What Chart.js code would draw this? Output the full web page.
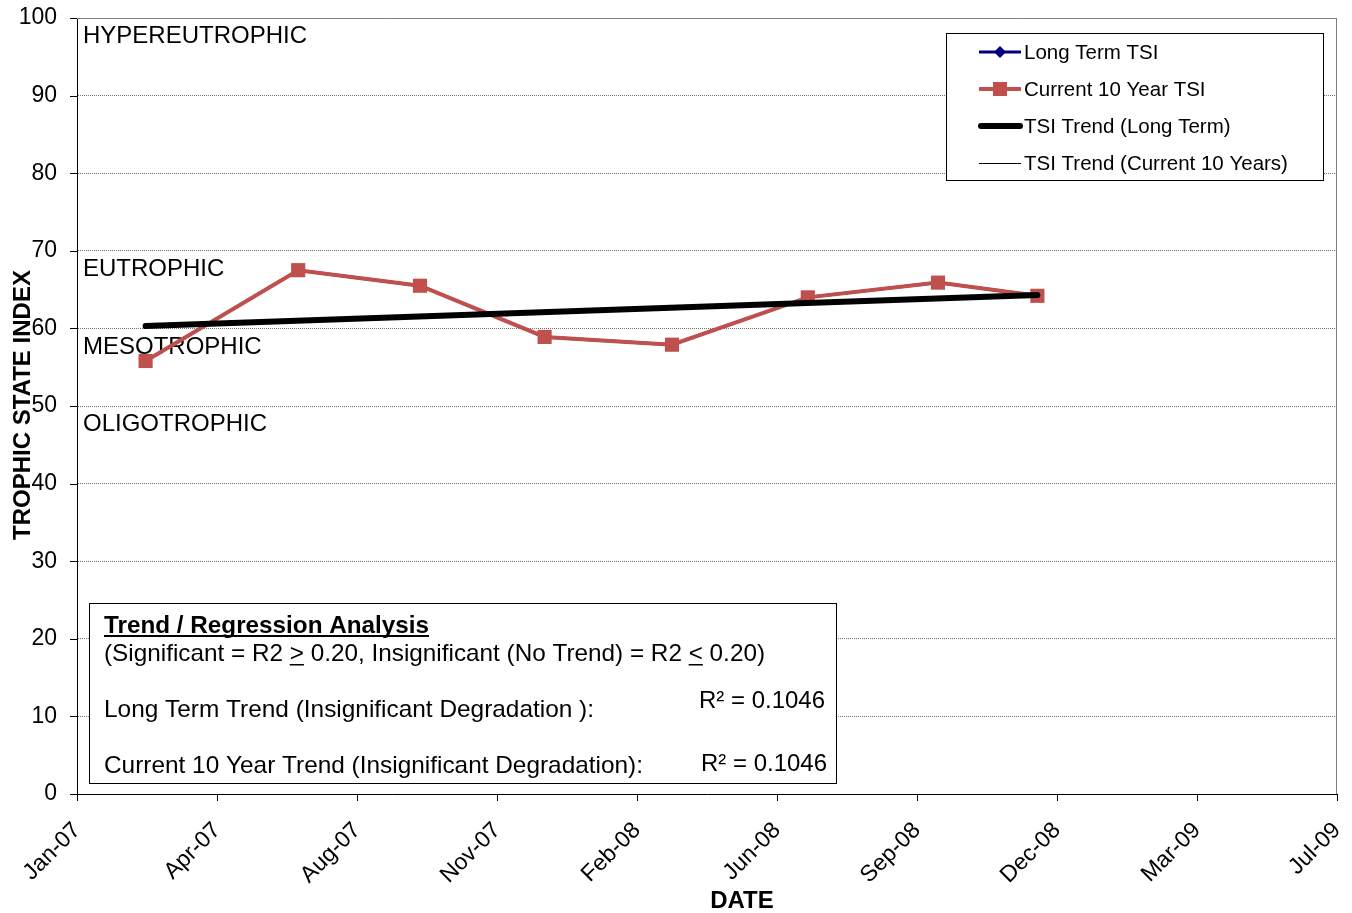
<!DOCTYPE html>
<html>
<head>
<meta charset="utf-8">
<script src="https://cdn.jsdelivr.net/npm/chart.js@4.4.0/dist/chart.umd.min.js"></script>
<style>
  html, body { margin: 0; padding: 0; background: #fff; }
  #wrap { width: 1352px; height: 913px; }
</style>
</head>
<body>
<div id="wrap"><canvas id="tsiChart" width="1352" height="913"></canvas></div>
<script>
// sample dates and TSI values
const sampleDates = ['2007-03-09', '2007-06-26', '2007-09-21', '2007-12-19',
                     '2008-03-19', '2008-06-24', '2008-09-25', '2008-12-05'];
const longTermTsi = [55.8, 67.5, 65.5, 58.9, 57.9, 64.0, 65.9, 64.2];
const currentTsi  = [55.8, 67.5, 65.5, 58.9, 57.9, 64.0, 65.9, 64.2];

// trend lines (start / end)
const trendDates = ['2007-03-09', '2008-12-05'];
const trendLongTerm = [60.3, 64.3];
const trendCurrent  = [60.3, 64.3];

// x axis ticks (Excel style date axis)
const xStartDate = '2007-01-19';
const xStepDays = 100;
const xTickLabels = ['Jan-07', 'Apr-07', 'Aug-07', 'Nov-07', 'Feb-08',
                     'Jun-08', 'Sep-08', 'Dec-08', 'Mar-09', 'Jul-09'];

const yTicks = [0, 10, 20, 30, 40, 50, 60, 70, 80, 90, 100];

const zones = [
    { label: 'HYPEREUTROPHIC', at: 100 },
    { label: 'EUTROPHIC', at: 70 },
    { label: 'MESOTROPHIC', at: 60 },
    { label: 'OLIGOTROPHIC', at: 50 }
];

const legendItems = ['Long Term TSI', 'Current 10 Year TSI', 'TSI Trend (Long Term)', 'TSI Trend (Current 10 Years)'];
const r2LongTerm = '0.1046';
const r2Current = '0.1046';

const RED = '#C0504D';
const NAVY = '#000080';

function dayNum(s) {
    return (Date.parse(s) - Date.parse('2007-01-01')) / 86400000;
}
const xMin = dayNum(xStartDate);
const xMax = xMin + xStepDays * (xTickLabels.length - 1);

function toPoints(dates, values) {
    return dates.map((d, i) => ({ x: dayNum(d), y: values[i] }));
}

// draw text squeezed to a given width (narrow font look)
function fitText(ctx, text, x, y, width) {
    const w = ctx.measureText(text).width;
    const s = width / w;
    ctx.save();
    ctx.translate(x, y);
    ctx.scale(s, 1);
    ctx.fillText(text, 0, 0);
    ctx.restore();
    return s;
}

const decorPlugin = {
    id: 'decor',
    beforeDatasetsDraw(chart) {
        const { ctx, chartArea: a, scales } = chart;
        ctx.save();
        // gray top and right frame
        ctx.strokeStyle = '#808080';
        ctx.lineWidth = 1;
        ctx.beginPath();
        ctx.moveTo(a.left, a.top + 0.5);
        ctx.lineTo(a.right - 0.5, a.top + 0.5);
        ctx.lineTo(a.right - 0.5, a.bottom);
        ctx.stroke();
        // y tick marks
        ctx.strokeStyle = '#000';
        yTicks.forEach(v => {
            const y = Math.round(scales.y.getPixelForValue(v)) + 0.5;
            ctx.beginPath();
            ctx.moveTo(a.left - 7, y);
            ctx.lineTo(a.left, y);
            ctx.stroke();
        });
        // zone labels
        ctx.fillStyle = '#000';
        ctx.font = '24px Arial, "Liberation Sans"';
        ctx.textBaseline = 'middle';
        ctx.textAlign = 'left';
        zones.forEach(z => {
            ctx.fillText(z.label, a.left + 6, scales.y.getPixelForValue(z.at) + 18.5);
        });
        ctx.restore();
    },
    afterDraw(chart) {
        const { ctx } = chart;
        ctx.save();
        ctx.fillStyle = '#000';

        // axis titles
        ctx.font = 'bold 24px Arial, "Liberation Sans"';
        ctx.textAlign = 'center';
        ctx.textBaseline = 'middle';
        ctx.fillText('DATE', 742, 901);
        ctx.save();
        ctx.translate(23, 405);
        ctx.rotate(-Math.PI / 2);
        ctx.fillText('TROPHIC STATE INDEX', 0, 0);
        ctx.restore();

        // legend box
        ctx.fillStyle = '#fff';
        ctx.fillRect(946.5, 33.5, 377, 147);
        ctx.strokeStyle = '#000';
        ctx.lineWidth = 1;
        ctx.strokeRect(946.5, 33.5, 377, 147);
        const rows = [52, 89, 126, 163];
        const x1 = 979, x2 = 1021;
        ctx.lineCap = 'butt';
        // long term
        ctx.strokeStyle = NAVY; ctx.lineWidth = 3;
        ctx.beginPath(); ctx.moveTo(x1, rows[0]); ctx.lineTo(x2, rows[0]); ctx.stroke();
        ctx.fillStyle = NAVY;
        ctx.beginPath();
        ctx.moveTo(1000, rows[0] - 6); ctx.lineTo(1006, rows[0]);
        ctx.lineTo(1000, rows[0] + 6); ctx.lineTo(994, rows[0]); ctx.closePath(); ctx.fill();
        // current
        ctx.strokeStyle = RED; ctx.lineWidth = 4;
        ctx.beginPath(); ctx.moveTo(x1, rows[1]); ctx.lineTo(x2, rows[1]); ctx.stroke();
        ctx.fillStyle = RED;
        ctx.fillRect(993, rows[1] - 7, 14, 14);
        // trend long term
        ctx.strokeStyle = '#000'; ctx.lineWidth = 6; ctx.lineCap = 'round';
        ctx.beginPath(); ctx.moveTo(x1 + 2, rows[2]); ctx.lineTo(x2 - 1, rows[2]); ctx.stroke();
        // trend current
        ctx.lineWidth = 1; ctx.lineCap = 'butt';
        ctx.beginPath(); ctx.moveTo(x1, rows[3] + 0.5); ctx.lineTo(x2, rows[3] + 0.5); ctx.stroke();
        ctx.fillStyle = '#000';
        ctx.font = '20.5px Arial, "Liberation Sans"';
        ctx.textAlign = 'left';
        ctx.textBaseline = 'middle';
        legendItems.forEach((t, i) => ctx.fillText(t, 1024, rows[i] + 1));

        // regression box
        ctx.fillStyle = '#fff';
        ctx.fillRect(89.5, 603.5, 747, 180);
        ctx.strokeStyle = '#000';
        ctx.lineWidth = 1;
        ctx.strokeRect(89.5, 603.5, 747, 180);
        ctx.fillStyle = '#000';
        ctx.textAlign = 'left';
        ctx.textBaseline = 'alphabetic';

        ctx.font = 'bold 24px "Liberation Sans Narrow", Arial';
        fitText(ctx, 'Trend / Regression Analysis', 104, 633, 325);
        ctx.fillRect(104, 635, 325, 2);

        ctx.font = '24px "Liberation Sans Narrow", Arial';
        const line2 = '(Significant = R2 > 0.20, Insignificant (No Trend) = R2 < 0.20)';
        const s = fitText(ctx, line2, 104, 661, 661);
        ['>', '<'].forEach(ch => {
            const idx = line2.indexOf(ch);
            const off = ctx.measureText(line2.slice(0, idx)).width * s;
            const cw = ctx.measureText(ch).width * s;
            ctx.fillRect(104 + off, 664, cw, 1.5);
        });
        fitText(ctx, 'Long Term Trend (Insignificant Degradation ):', 104, 717, 490);
        fitText(ctx, 'Current 10 Year Trend (Insignificant Degradation):', 104, 773, 539);
        fitText(ctx, 'R\u00B2 = ' + r2LongTerm, 699, 708, 126);
        fitText(ctx, 'R\u00B2 = ' + r2Current, 701, 771, 126);
        ctx.restore();
    }
};

const ctx = document.getElementById('tsiChart').getContext('2d');
new Chart(ctx, {
    type: 'line',
    data: {
        datasets: [
            {
                label: legendItems[0],
                data: toPoints(sampleDates, longTermTsi),
                borderColor: NAVY,
                backgroundColor: NAVY,
                borderWidth: 3,
                pointStyle: 'rectRot',
                pointRadius: 5,
                pointBorderWidth: 0,
                order: 3
            },
            {
                label: legendItems[1],
                data: toPoints(sampleDates, currentTsi),
                borderColor: RED,
                backgroundColor: RED,
                borderWidth: 4,
                pointStyle: 'rect',
                pointRadius: 10,
                pointBorderWidth: 0,
                order: 2
            },
            {
                label: legendItems[2],
                data: toPoints(trendDates, trendLongTerm),
                borderColor: '#000',
                borderWidth: 6,
                borderCapStyle: 'round',
                pointRadius: 0,
                order: 0
            },
            {
                label: legendItems[3],
                data: toPoints(trendDates, trendCurrent),
                borderColor: '#000',
                borderWidth: 1,
                pointRadius: 0,
                order: 1
            }
        ]
    },
    options: {
        responsive: false,
        animation: false,
        layout: { padding: { top: 18, right: 15, left: 0, bottom: 0 } },
        plugins: {
            legend: { display: false },
            title: { display: false },
            tooltip: { enabled: false }
        },
        scales: {
            x: {
                type: 'linear',
                min: xMin,
                max: xMax,
                afterBuildTicks: scale => {
                    scale.ticks = xTickLabels.map((_, i) => ({ value: xMin + i * xStepDays }));
                },
                afterFit: scale => {
                    scale.height = 119;
                    scale.paddingLeft = 0;
                    scale.paddingRight = 0;
                },
                ticks: {
                    callback: (v, i) => xTickLabels[i],
                    color: '#000',
                    font: { family: 'Arial, "Liberation Sans"', size: 23 },
                    maxRotation: 45,
                    minRotation: 45,
                    autoSkip: false,
                    padding: 16
                },
                grid: { drawOnChartArea: false, drawTicks: true, tickLength: 7, color: '#000' },
                border: { color: '#000', width: 1 }
            },
            y: {
                min: 0,
                max: 100,
                afterFit: scale => {
                    scale.width = 77;
                    scale.paddingTop = 0;
                    scale.paddingBottom = 0;
                },
                ticks: {
                    stepSize: 10,
                    color: '#000',
                    font: { family: 'Arial, "Liberation Sans"', size: 23 },
                    padding: 20
                },
                grid: { drawTicks: false, color: '#707070', lineWidth: 1 },
                border: { color: '#000', width: 1, dash: [1, 1] }
            }
        }
    },
    plugins: [decorPlugin]
});
</script>
</body>
</html>
